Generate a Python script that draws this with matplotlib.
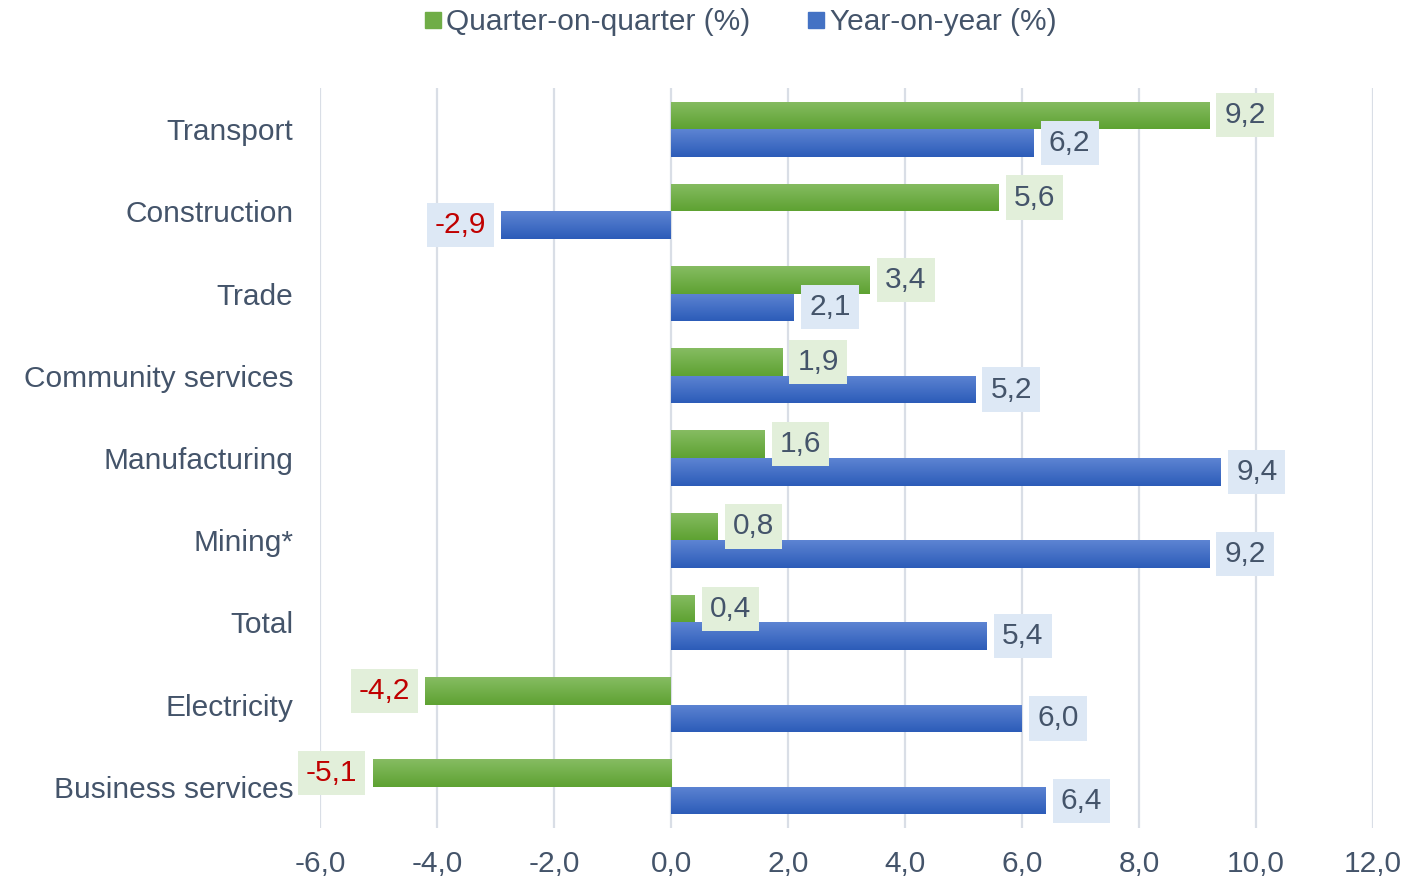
import matplotlib
matplotlib.use("Agg")
import matplotlib.pyplot as plt
from matplotlib.colors import LinearSegmentedColormap
from matplotlib.lines import Line2D
import numpy as np

plt.rcParams["font.family"] = ["Liberation Sans", "DejaVu Sans"]

# ── data ─────────────────────────────────────────────
CATEGORIES = ["Transport", "Construction", "Trade", "Community services",
              "Manufacturing", "Mining*", "Total", "Electricity",
              "Business services"]
QOQ = [9.2, 5.6, 3.4, 1.9, 1.6, 0.8, 0.4, -4.2, -5.1]
YOY = [6.2, -2.9, 2.1, 5.2, 9.4, 9.2, 5.4, 6.0, 6.4]
XTICKS = [-6, -4, -2, 0, 2, 4, 6, 8, 10, 12]

FS = 21.5
TXT = "#44546A"
NEG = "#C00000"
GREEN_CM = LinearSegmentedColormap.from_list("g", ["#5EA232", "#86BC62"])
BLUE_CM = LinearSegmentedColormap.from_list("b", ["#2C5CB8", "#5D84D3"])
GREEN_BOX = "#E2EFDA"
BLUE_BOX = "#DDE8F5"

fig = plt.figure(figsize=(14.07, 8.82), dpi=100)
ax = fig.add_axes([320 / 1407, 1 - 828 / 882, 1053 / 1407, 740 / 882])

n = len(CATEGORIES)
ypos = np.arange(n)[::-1]
h = 0.335

grad = np.linspace(0, 1, 64).reshape(-1, 1)


def gradient_bars(bars, cmap):
    # vertical light-to-dark fill, clipped to each bar
    for b in bars:
        x0, y0 = b.get_x(), b.get_y()
        w, hh = b.get_width(), b.get_height()
        im = ax.imshow(grad, cmap=cmap, origin="lower", aspect="auto",
                       extent=(x0, x0 + w, y0, y0 + hh), zorder=3)
        im.set_clip_path(b)


bq = ax.barh(ypos + h / 2, QOQ, height=h, color="#70AD47", zorder=2)
by = ax.barh(ypos - h / 2, YOY, height=h, color="#4472C4", zorder=2)
gradient_bars(bq, GREEN_CM)
gradient_bars(by, BLUE_CM)


def fmt(v):
    return f"{v:.1f}".replace(".", ",")


def labels(vals, ys, boxc):
    for v, y in zip(vals, ys):
        off = 11 if v >= 0 else -11
        ax.annotate(fmt(v), xy=(v, y), xytext=(off, 0),
                    textcoords="offset points",
                    ha="left" if v >= 0 else "right", va="center",
                    fontsize=FS, color=TXT if v >= 0 else NEG, zorder=5,
                    bbox=dict(boxstyle="square,pad=0.27", fc=boxc, ec="none"))


labels(QOQ, ypos + h / 2, GREEN_BOX)
labels(YOY, ypos - h / 2, BLUE_BOX)

ax.set_xlim(-6, 12)
ax.set_ylim(-0.5, n - 0.5)
ax.set_xticks(XTICKS)
ax.set_xticklabels([fmt(float(t)) for t in XTICKS])
ax.set_yticks(ypos)
ax.set_yticklabels(CATEGORIES)
ax.tick_params(axis="both", length=0, labelsize=FS, labelcolor=TXT)
ax.tick_params(axis="y", pad=19)
ax.tick_params(axis="x", pad=16)
ax.xaxis.grid(True, color="#D9DEE6", lw=1.6, zorder=0)
ax.set_axisbelow(True)
for s in ax.spines.values():
    s.set_visible(False)

handles = [
    Line2D([], [], marker="s", ls="none", ms=11, color="#70AD47",
           label="Quarter-on-quarter (%)"),
    Line2D([], [], marker="s", ls="none", ms=11, color="#4472C4",
           label="Year-on-year (%)"),
]
leg = fig.legend(handles=handles, loc="center",
                 bbox_to_anchor=(740 / 1407, 1 - 22 / 882),
                 ncol=2, frameon=False, fontsize=FS, handlelength=0.6,
                 handletextpad=0.15, columnspacing=1.9, borderaxespad=0)
for t in leg.get_texts():
    t.set_color(TXT)

fig.savefig("out.png", dpi=100)
